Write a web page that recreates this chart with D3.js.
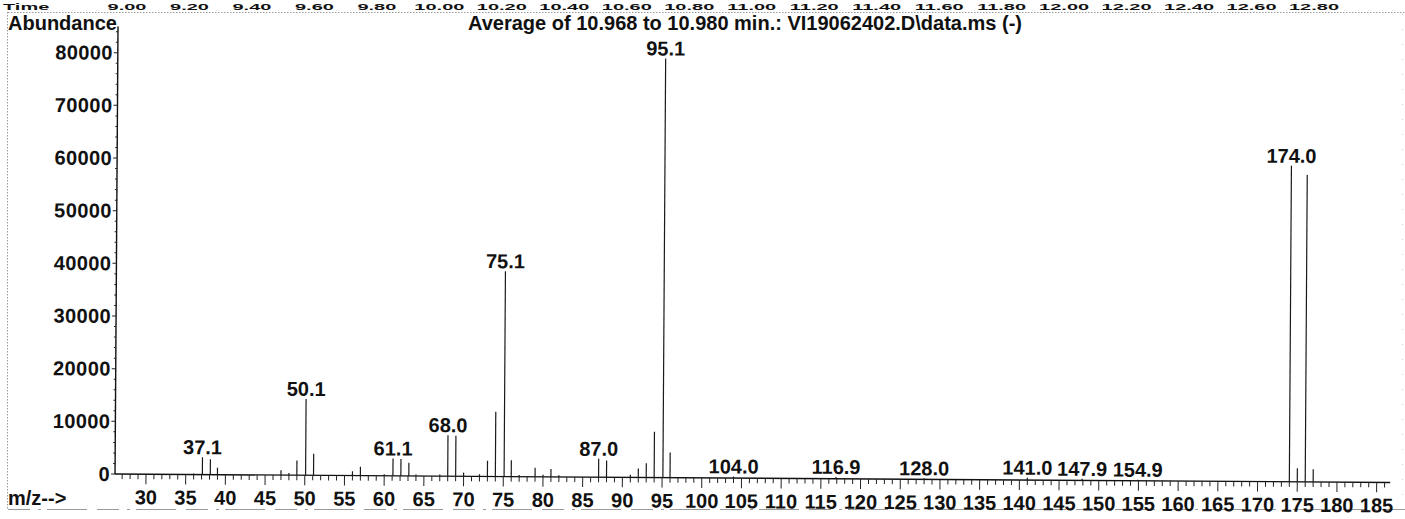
<!DOCTYPE html>
<html>
<head>
<meta charset="utf-8">
<script src="https://cdn.jsdelivr.net/npm/d3@7/dist/d3.min.js"></script>
<style>
  html, body { margin: 0; padding: 0; background: #fff; }
  svg { display: block; }
  text { font-family: "Liberation Sans", Arial, sans-serif; font-weight: bold; fill: #111; }
</style>
</head>
<body>
<svg id="chart" width="1405" height="519"></svg>
<script>
// Averaged mass spectrum: m/z positions and abundances of each ion line
const mzValues = [36.0, 37.1, 38.1, 39.0, 47.0, 48.0, 49.0, 50.1, 51.1, 56.0, 57.0, 60.0,
  61.1, 62.1, 63.1, 64.0, 67.0, 68.0, 69.0, 70.0, 72.0, 73.0, 74.0, 75.1, 76.0, 77.0, 79.0,
  80.0, 81.0, 82.0, 87.0, 88.0, 91.0, 92.0, 93.0, 94.0, 95.1, 96.0, 104.0, 116.9, 128.0,
  141.0, 147.9, 154.9, 174.0, 175.0, 176.0, 177.0];
const abundances = [200, 3300, 2900, 1300, 900, 400, 2800, 14500, 4100, 800, 1700, 300,
  3300, 3200, 2500, 300, 300, 7800, 7700, 700, 400, 3000, 12300, 39000, 3100, 300, 1700,
  400, 1500, 300, 3500, 3200, 500, 1700, 2700, 8700, 79600, 4800, 300, 350, 200,
  450, 300, 200, 60000, 2600, 58300, 2400];

// Ions that carry an m/z annotation
const labelledMz = [37.1, 50.1, 61.1, 68.0, 75.1, 87.0, 95.1, 104.0, 116.9, 128.0, 141.0, 147.9, 154.9, 174.0];

// Axis tick labels
const abundanceTicks = [0, 10000, 20000, 30000, 40000, 50000, 60000, 70000, 80000];
const mzTicks = d3.range(30, 186, 5);
const timeTicks = ["9.00", "9.20", "9.40", "9.60", "9.80", "10.00", "10.20", "10.40", "10.60",
  "10.80", "11.00", "11.20", "11.40", "11.60", "11.80", "12.00", "12.20", "12.40", "12.60", "12.80"];

const titleText = "Average of 10.968 to 10.980 min.: VI19062402.D\\data.ms (-)";
const FS = 20;

const svg = d3.select("#chart");

// Page frame (dotted)
const frame = svg.append("g").attr("stroke", "#9a9a9a").attr("stroke-width", 1)
  .attr("stroke-dasharray", "1.5 1.5").attr("fill", "none");
frame.append("line").attr("x1", 8).attr("x2", 1405).attr("y1", 12.5).attr("y2", 12.5);
frame.append("line").attr("x1", 7.5).attr("x2", 7.5).attr("y1", 12).attr("y2", 510);
frame.append("line").attr("x1", 8).attr("x2", 1405).attr("y1", 509.5).attr("y2", 509.5)
  .attr("stroke-dasharray", "22 8 3 6 40 10");
frame.append("line").attr("x1", 1402.5).attr("x2", 1402.5).attr("y1", 14).attr("y2", 508)
  .attr("stroke", "#d0d0d0").attr("stroke-dasharray", "1 14");

// Time strip along the top (squeezed into the narrow band above the frame)
const timeScale = d3.scalePoint().domain(timeTicks).range([127, 1314]);
const squeeze = 0.48;
svg.append("text").attr("transform", `translate(3,9.5) scale(1,${squeeze})`)
  .attr("font-size", FS).text("Time");
svg.append("g").selectAll("text").data(timeTicks).join("text")
  .attr("transform", d => `translate(${timeScale(d)},9.5) scale(1,${squeeze})`)
  .attr("text-anchor", "middle").attr("font-size", FS).text(d => d);

// Header
svg.append("text").attr("x", 8).attr("y", 29.6).attr("font-size", FS).text("Abundance");
svg.append("text").attr("x", 745).attr("y", 30).attr("text-anchor", "middle")
  .attr("font-size", FS).text(titleText);
svg.append("text").attr("x", 8).attr("y", 505).attr("font-size", FS).text("m/z-->");

// Scales
const x = d3.scaleLinear().domain([30, 185]).range([146, 1376.7]);
const y = d3.scaleLinear().domain([0, 80000]).range([474, 52.7]);
const x0 = x(26.1), y0 = y(0);

// Plot is drawn slightly skewed, as on the printed sheet
const plot = svg.append("g").attr("transform", `rotate(0.38, ${x0}, ${y0})`);

// Y axis
plot.append("line").attr("x1", x0).attr("x2", x0).attr("y1", y(85000)).attr("y2", y0)
  .attr("stroke", "#111").attr("stroke-width", 1.4);
plot.append("g").selectAll("line").data(d3.range(0, 84001, 2000)).join("line")
  .attr("x1", d => x0 - (d % 10000 === 0 ? 4 : 2)).attr("x2", x0)
  .attr("y1", d => y(d)).attr("y2", d => y(d))
  .attr("stroke", "#222").attr("stroke-width", 1);
plot.append("g").selectAll("text").data(abundanceTicks).join("text")
  .attr("x", x0 - 5).attr("y", d => y(d) + 7).attr("text-anchor", "end")
  .attr("font-size", FS).attr("letter-spacing", 0.4).text(d => d);

// X axis
plot.append("line").attr("x1", x0).attr("x2", x(186.7)).attr("y1", y0).attr("y2", y0)
  .attr("stroke", "#111").attr("stroke-width", 1.4);
plot.append("g").selectAll("line").data(d3.range(27, 187)).join("line")
  .attr("x1", d => x(d)).attr("x2", d => x(d))
  .attr("y1", y0).attr("y2", d => y0 + (d % 5 === 0 ? 10 : 5))
  .attr("stroke", "#222").attr("stroke-width", 1);
plot.append("g").selectAll("text").data(mzTicks).join("text")
  .attr("x", d => x(d)).attr("y", y0 + 30).attr("text-anchor", "middle")
  .attr("font-size", FS).text(d => d);

// Ion lines
const ions = mzValues.map((m, i) => ({ mz: m, ab: abundances[i] }));
plot.append("g").selectAll("line").data(ions).join("line")
  .attr("x1", d => x(d.mz)).attr("x2", d => x(d.mz))
  .attr("y1", y0).attr("y2", d => y(d.ab))
  .attr("stroke", "#1a1a1a").attr("stroke-width", 1.2);

// m/z annotations above labelled ions
const labelled = ions.filter(d => labelledMz.includes(d.mz));
plot.append("g").selectAll("text").data(labelled).join("text")
  .attr("x", d => x(d.mz)).attr("y", d => y(d.ab) - 3).attr("text-anchor", "middle")
  .attr("font-size", FS).text(d => d.mz.toFixed(1));
</script>
</body>
</html>
